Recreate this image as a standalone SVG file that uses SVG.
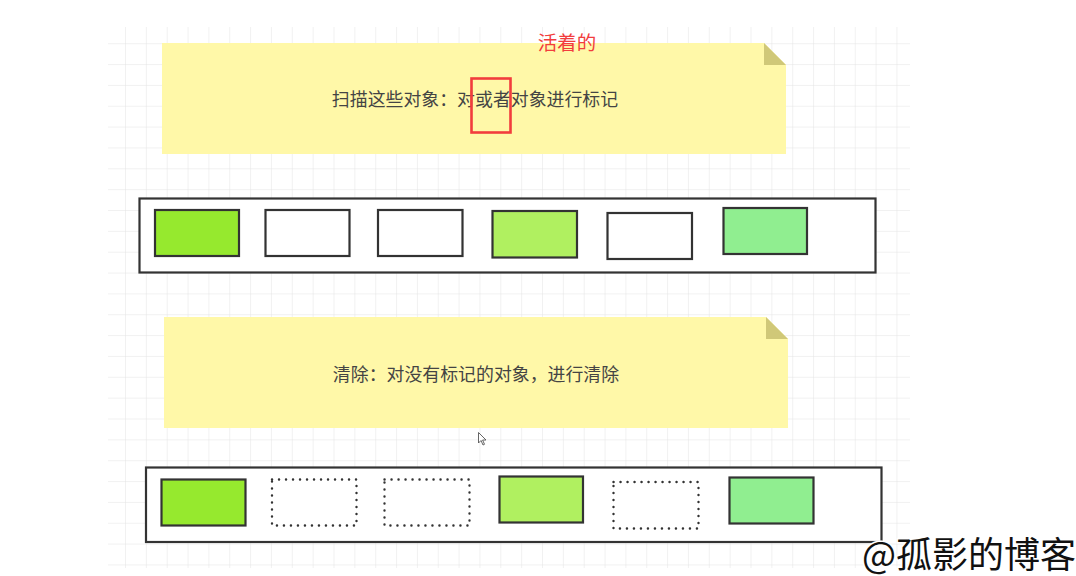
<svg xmlns="http://www.w3.org/2000/svg" width="1076" height="576" viewBox="0 0 1076 576">
<defs>
<pattern id="grid" x="125" y="1.5" width="20.85" height="20.85" patternUnits="userSpaceOnUse">
<path d="M0 0V20.85M0 0H20.85" fill="none" stroke="#e3e3e3" stroke-width="1"/>
</pattern>
</defs>
<style>
.note{fill:#FFF8A8}
.fold{fill:#D0C878}
.ntxt{font-family:"Noto Sans CJK SC","Noto Sans",sans-serif;font-size:17.9px;fill:#444;text-anchor:middle}
.cont{fill:#fff;stroke:#333;stroke-width:2.2}
.obj{stroke:#333;stroke-width:2.2}
.g1{fill:#96E92E}
.g2{fill:#B0F060}
.g3{fill:#90EE90}
.w{fill:#fff}
.dot{fill:#fff;stroke:#333;stroke-width:2.4;stroke-dasharray:0.1 6.9;stroke-linecap:round}
</style>
<rect width="1076" height="576" fill="#fff"/>
<rect x="108" y="27" width="802" height="541" fill="url(#grid)"/>

<g id="note1">
<path class="note" d="M162 43H764L786 65V154H162Z"/>
<path class="fold" d="M764 43L786 65H764Z"/>
<text class="ntxt" x="475" y="106">扫描这些对象：对或者对象进行标记</text>
</g>
<g id="highlight">
<rect x="471.5" y="78.5" width="39" height="54" fill="none" stroke="#F23D3D" stroke-width="2.6"/>
<text x="567" y="50" font-family="'Noto Sans CJK SC',sans-serif" font-size="19.5" fill="#F23D3D" text-anchor="middle">活着的</text>
</g>

<g id="row1">
<rect class="cont" x="139.5" y="198.5" width="736" height="74"/>
<rect id="r1b1" class="obj g1" x="155" y="210" width="84" height="46"/>
<rect id="r1b2" class="obj w" x="265.5" y="210" width="84" height="46"/>
<rect id="r1b3" class="obj w" x="378" y="210" width="84.5" height="46"/>
<rect id="r1b4" class="obj g2" x="492.5" y="211" width="84.5" height="46.5"/>
<rect id="r1b5" class="obj w" x="607.5" y="213" width="84.5" height="46"/>
<rect id="r1b6" class="obj g3" x="723.5" y="208" width="83.5" height="46"/>
</g>

<g id="note2">
<path class="note" d="M164 317H766L788 339V428H164Z"/>
<path class="fold" d="M766 317L788 339H766Z"/>
<text class="ntxt" x="476" y="381">清除：对没有标记的对象，进行清除</text>
</g>

<g id="row2">
<rect class="cont" x="146" y="467.5" width="735.5" height="74.5"/>
<rect id="r2b1" class="obj g1" x="161.5" y="479.5" width="84" height="46"/>
<rect id="r2b2" class="dot" x="272" y="479.5" width="84.5" height="46"/>
<rect id="r2b3" class="dot" x="384.5" y="479.5" width="85" height="46"/>
<rect id="r2b4" class="obj g2" x="499.5" y="476.5" width="83.5" height="46"/>
<rect id="r2b5" class="dot" x="613.5" y="482" width="85" height="46.5"/>
<rect id="r2b6" class="obj g3" x="729.5" y="477.5" width="84" height="46"/>
</g>

<g id="cursor">
<path d="M478.5 432.5V443L481 440.5L483 445L484.5 444.3L482.6 440H486Z" fill="#fff" stroke="#555" stroke-width="0.9"/>
</g>

<g id="watermark">
<text x="862" y="568" font-family="'Noto Sans CJK SC',sans-serif" font-size="36" fill="#111" stroke="#fff" stroke-width="3" paint-order="stroke">@孤影的博客</text>
</g>
</svg>
